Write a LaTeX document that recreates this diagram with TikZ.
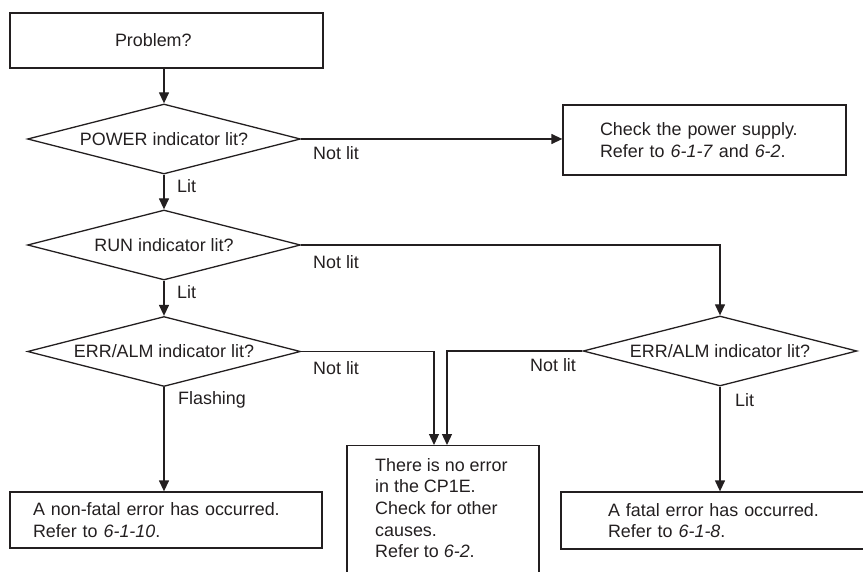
\documentclass[tikz,border=0pt]{standalone}
\usepackage{fontspec}
\setmainfont{Liberation Sans}
\usetikzlibrary{shapes.geometric,arrows.meta,calc}
\definecolor{ink}{HTML}{231F20}
\begin{document}
\begin{tikzpicture}[x=1pt,y=-1pt,
  every node/.style={font=\fontsize{17.9}{21.7}\selectfont, text=ink},
  box/.style={draw=ink, line width=1.3pt, rectangle, align=left, inner ysep=0pt},
  dec/.style={draw=ink, line width=1.3pt, diamond, shape aspect=3.9, inner sep=0pt,
              minimum width=273pt, minimum height=70pt},
  lbl/.style={anchor=west, inner sep=0pt},
  conn/.style={draw=ink, line width=1.3pt, -{Triangle[length=11pt,width=10pt]}}]
\clip (0,0) rectangle (863,572);
% boxes
\node[box, text width=103pt, inner xsep=105pt, minimum height=55pt] (prob) at (166.5,40.5) {Problem?};
\node[box, text width=209pt, inner xsep=37pt, minimum height=70pt] (chk) at (704.5,140)
  {Check the power supply.\\Refer to \textit{6-1-7} and \textit{6-2}.};
\node[box, text width=266pt, inner xsep=23pt, minimum height=56pt] (nf) at (166,520)
  {A non-fatal error has occurred.\\Refer to \textit{6-1-10}.};
\node[box, text width=220pt, inner xsep=47pt, minimum height=57pt] (fat) at (718,520.5)
  {A fatal error has occurred.\\Refer to \textit{6-1-8}.};
\node[box, anchor=north, minimum width=192pt, minimum height=150pt] (cen) at (443,445) {};
\node[lbl, anchor=north west, align=left] (centxt) at (375,458)
  {There is no error\\in the CP1E.\\Check for other\\causes.\\Refer to \textit{6-2}.};
% decisions
\node[dec] (pow) at (164,139) {POWER indicator lit?};
\node[dec] (run) at (164,245) {RUN indicator lit?};
\node[dec] (err1) at (164,351.5) {ERR/ALM indicator lit?};
\node[dec, minimum width=274pt] (err2) at (720,351) {ERR/ALM indicator lit?};
% connectors
\draw[conn] (prob.south -| pow.north) -- (pow.north);
\draw[conn] (pow.east) -- (pow.east -| chk.west);
\draw[conn] (pow.south) -- (run.north);
\draw[conn] (run.south) -- (err1.north);
\draw[conn] (run.east) -| (err2.north);
\draw[conn] (err1.south) -- (err1.south |- nf.north);
\draw[conn] (err1.east) -| ($(cen.north)+(-9,0)$);
\draw[conn] (err2.west) -| ($(cen.north)+(4,0)$);
\draw[conn] (err2.south) -- (err2.south |- fat.north);
% labels
\node[lbl] (l1) at (313,153) {Not lit};
\node[lbl] (l2) at (177,186) {Lit};
\node[lbl] (l3) at (313,262.5) {Not lit};
\node[lbl] (l4) at (177,292) {Lit};
\node[lbl] (l5) at (313,368) {Not lit};
\node[lbl] (l6) at (530,365) {Not lit};
\node[lbl] (l7) at (178,400) {Flashing};
\node[lbl] (l8) at (735,400) {Lit};
\end{tikzpicture}
\end{document}
